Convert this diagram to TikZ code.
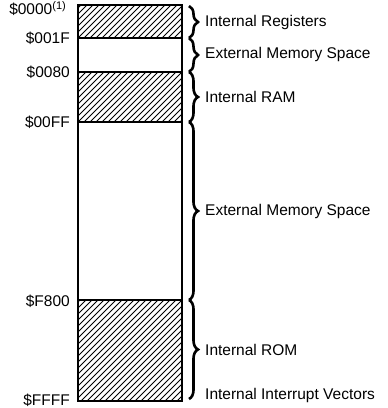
\documentclass[tikz,border=0pt]{standalone}
\usepackage{fontspec}
\setmainfont{Liberation Sans}
\usetikzlibrary{decorations.pathreplacing}

\begin{document}
\begin{tikzpicture}[
  x=1pt, y=-1pt,
  addr/.style={anchor=east, inner sep=0pt, font=\fontsize{15.5}{17}\selectfont},
  area/.style={anchor=west, inner sep=0pt, font=\fontsize{15.5}{17}\selectfont},
  membrace/.style={decorate, decoration={brace, amplitude=9pt}, line width=2.6pt},
  hatch/.style={line width=0.8pt}
]
\useasboundingbox (0,0) rectangle (388,408);

% region boundaries of the memory map
\coordinate (b0) at (78,5);
\coordinate (b1) at (78,38);
\coordinate (b2) at (78,72);
\coordinate (b3) at (78,122);
\coordinate (b4) at (78,300);
\coordinate (b5) at (78,401);

% hatched (internal) regions
\foreach \ya/\yb in {5/38, 72/122, 300/401} {
  \begin{scope}
    \clip (78,\ya) rectangle (182,\yb);
    \foreach \i in {-336,-330,...,186}
      \draw[hatch] (\i,410) -- ++(410,-410);
  \end{scope}
}

% the memory block
\draw[line width=1.4pt] (b0) rectangle (182,401);
\foreach \b in {b1,b2,b3,b4}
  \draw[line width=1.4pt] (\b) -- ++(104,0);

% addresses
\node[addr] (a0) at (66,9) {\$0000\raisebox{5pt}{\fontsize{11}{12}\selectfont(1)}};
\node[addr] (a1) at (70,38) {\$001F};
\node[addr] (a2) at (70,72) {\$0080};
\node[addr] (a3) at (70,122) {\$00FF};
\node[addr] (a4) at (70,301) {\$F800};
\node[addr] (a5) at (70,400) {\$FFFF};

% braces
\draw[membrace] (189,6) -- (189,38);
\draw[membrace] (189,38) -- (189,72);
\draw[membrace] (189,72) -- (189,122);
\draw[membrace] (189,122) -- (189,300);
\draw[membrace] (189,300) -- (189,399);

% area names
\node[area] (r0) at (205,22) {Internal Registers};
\node[area] (r1) at (205,54) {External Memory Space};
\node[area] (r2) at (205,97) {Internal RAM};
\node[area] (r3) at (205,211) {External Memory Space};
\node[area] (r4) at (205,350) {Internal ROM};
\node[area] (r5) at (205,395) {Internal Interrupt Vectors};
\end{tikzpicture}
\end{document}
